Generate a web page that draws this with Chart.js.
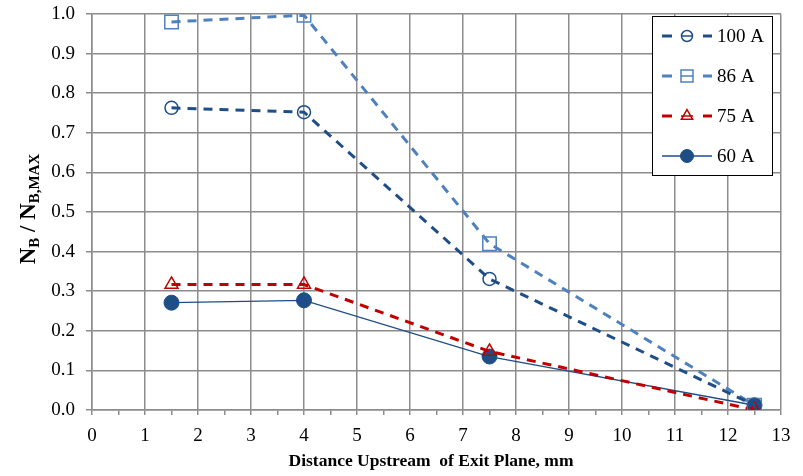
<!DOCTYPE html>
<html>
<head>
<meta charset="utf-8">
<script src="https://cdn.jsdelivr.net/npm/chart.js@4.4.1/dist/chart.umd.min.js"></script>
<style>
  html, body { margin: 0; padding: 0; background: #fff; }
  #wrap { width: 803px; height: 476px; position: relative; }
</style>
</head>
<body>
<div id="wrap"><canvas id="chart"></canvas></div>
<script>
// Données
const distances = [1.5, 4, 7.5, 12.5];
const serie100A = [0.763, 0.752, 0.331, 0.012];
const serie86A = [0.98, 0.997, 0.42, 0.012];
const serie75A = [0.317, 0.317, 0.148, 0.0];
const serie60A = [0.271, 0.277, 0.135, 0.012];
const etiquettes = ['100 A', '86 A', '75 A', '60 A'];
const yTicks = [0, 0.1, 0.2, 0.3, 0.4, 0.5, 0.6, 0.7, 0.8, 0.9, 1.0];

const GRIS = '#8c8c8c';
const SERIF = "'Liberation Serif', 'Times New Roman', serif";

function points(valeurs) {
    return distances.map((x, i) => ({ x: x, y: valeurs[i] }));
}

const datasets = [
    {
        label: etiquettes[0], data: points(serie100A),
        borderColor: '#1f4e86', borderWidth: 3, borderDash: [9, 7],
        pointStyle: 'circle', pointRadius: 6.5, pointBorderWidth: 1.5,
        pointBorderColor: '#1f4e86', pointBackgroundColor: 'rgba(0,0,0,0)'
    },
    {
        label: etiquettes[1], data: points(serie86A),
        borderColor: '#4f81bd', borderWidth: 3, borderDash: [9, 7],
        pointStyle: 'rect', pointRadius: 9.5, pointBorderWidth: 1.5,
        pointBorderColor: '#4f81bd', pointBackgroundColor: 'rgba(0,0,0,0)'
    },
    {
        label: etiquettes[2], data: points(serie75A),
        borderColor: '#c00000', borderWidth: 3, borderDash: [9, 7],
        pointStyle: 'triangle', pointRadius: 7.5, pointBorderWidth: 1.5,
        pointBorderColor: '#c00000', pointBackgroundColor: 'rgba(0,0,0,0)'
    },
    {
        label: etiquettes[3], data: points(serie60A),
        borderColor: '#1f4e86', borderWidth: 1.3,
        pointStyle: 'circle', pointRadius: 7.5, pointBorderWidth: 1,
        pointBorderColor: '#1f4e86', pointBackgroundColor: '#1f4e86'
    }
];

// Titres d'axes et légende dessinés à la main (indices, encadré)
const decor = {
    id: 'decor',
    afterDraw(chart) {
        const ctx = chart.ctx;

        // titre axe Y avec indices
        ctx.save();
        ctx.translate(28, 209);
        ctx.rotate(-Math.PI / 2);
        ctx.fillStyle = '#000';
        ctx.textBaseline = 'alphabetic';
        const gros = 'bold 23px ' + SERIF;
        const petit = 'bold 15px ' + SERIF;
        const morceaux = [['N', gros, 0], ['B', petit, 4], [' / N', gros, 0], ['B,MAX', petit, 4]];
        let largeur = 0;
        morceaux.forEach(m => { ctx.font = m[1]; largeur += ctx.measureText(m[0]).width; });
        let x = -largeur / 2;
        morceaux.forEach(m => {
            ctx.font = m[1];
            ctx.fillText(m[0], x, 7 + m[2]);
            x += ctx.measureText(m[0]).width;
        });
        ctx.restore();

        // titre axe X
        ctx.save();
        ctx.font = 'bold 17.5px ' + SERIF;
        ctx.fillStyle = '#000';
        ctx.textAlign = 'center';
        ctx.fillText('Distance Upstream  of Exit Plane, mm', 431, 466);
        ctx.restore();

        // légende
        const bx = 652, by = 16, bw = 120, bh = 159;
        ctx.save();
        ctx.fillStyle = '#fff';
        ctx.fillRect(bx, by, bw, bh);
        ctx.strokeStyle = '#000';
        ctx.lineWidth = 1;
        ctx.strokeRect(bx + 0.5, by + 0.5, bw, bh);
        chart.data.datasets.forEach((ds, i) => {
            const y = by + 20 + i * 40;
            ctx.save();
            ctx.strokeStyle = ds.borderColor;
            ctx.lineWidth = ds.borderWidth;
            ctx.beginPath();
            if (ds.borderDash) {
                ctx.moveTo(bx + 10, y); ctx.lineTo(bx + 20, y);
                ctx.moveTo(bx + 51, y); ctx.lineTo(bx + 60, y);
            } else {
                ctx.moveTo(bx + 10, y); ctx.lineTo(bx + 60, y);
            }
            ctx.stroke();
            ctx.restore();

            ctx.save();
            ctx.fillStyle = ds.pointBackgroundColor;
            ctx.strokeStyle = ds.pointBorderColor;
            ctx.lineWidth = ds.pointBorderWidth;
            Chart.helpers.drawPoint(ctx, {
                pointStyle: ds.pointStyle, radius: ds.pointRadius - 1, rotation: 0,
                borderWidth: ds.pointBorderWidth
            }, bx + 35, y);
            if (ds.borderDash) {
                ctx.strokeStyle = ds.borderColor;
                ctx.lineWidth = 1.5;
                ctx.beginPath();
                ctx.moveTo(bx + 29, y); ctx.lineTo(bx + 41, y);
                ctx.stroke();
            }
            ctx.restore();

            ctx.fillStyle = '#000';
            ctx.font = '19px ' + SERIF;
            ctx.textBaseline = 'middle';
            ctx.fillText(ds.label, bx + 65, y + 1);
        });
        ctx.restore();
    }
};

new Chart(document.getElementById('chart'), {
    type: 'line',
    data: { datasets: datasets },
    options: {
        responsive: true,
        maintainAspectRatio: false,
        animation: false,
        layout: { padding: { left: 0, right: 22, top: 14, bottom: 0 } },
        plugins: { legend: { display: false }, tooltip: { enabled: false } },
        scales: {
            x: {
                type: 'linear', min: 0, max: 13,
                afterFit: s => { s.height = 66; },
                border: { color: GRIS, width: 1.5 },
                grid: {
                    color: c => (c.tick && Number.isInteger(c.tick.value)) ? GRIS : 'rgba(0,0,0,0)',
                    tickColor: GRIS, tickLength: 5, lineWidth: 1.5
                },
                ticks: {
                    stepSize: 0.5, autoSkip: false, maxRotation: 0, padding: 10,
                    color: '#000', font: { family: SERIF, size: 19 },
                    callback: v => Number.isInteger(v) ? String(v) : ''
                }
            },
            y: {
                min: 0, max: 1,
                afterFit: s => { s.width = 92; s.paddingTop = 0; s.paddingBottom = 0; },
                afterBuildTicks: s => { s.ticks = yTicks.map(v => ({ value: v })); },
                border: { color: GRIS, width: 1.5 },
                grid: { color: GRIS, tickColor: GRIS, tickLength: 6, lineWidth: 1.5 },
                ticks: {
                    padding: 11, color: '#000', font: { family: SERIF, size: 19 },
                    callback: v => v.toFixed(1)
                }
            }
        }
    },
    plugins: [decor]
});
</script>
</body>
</html>
